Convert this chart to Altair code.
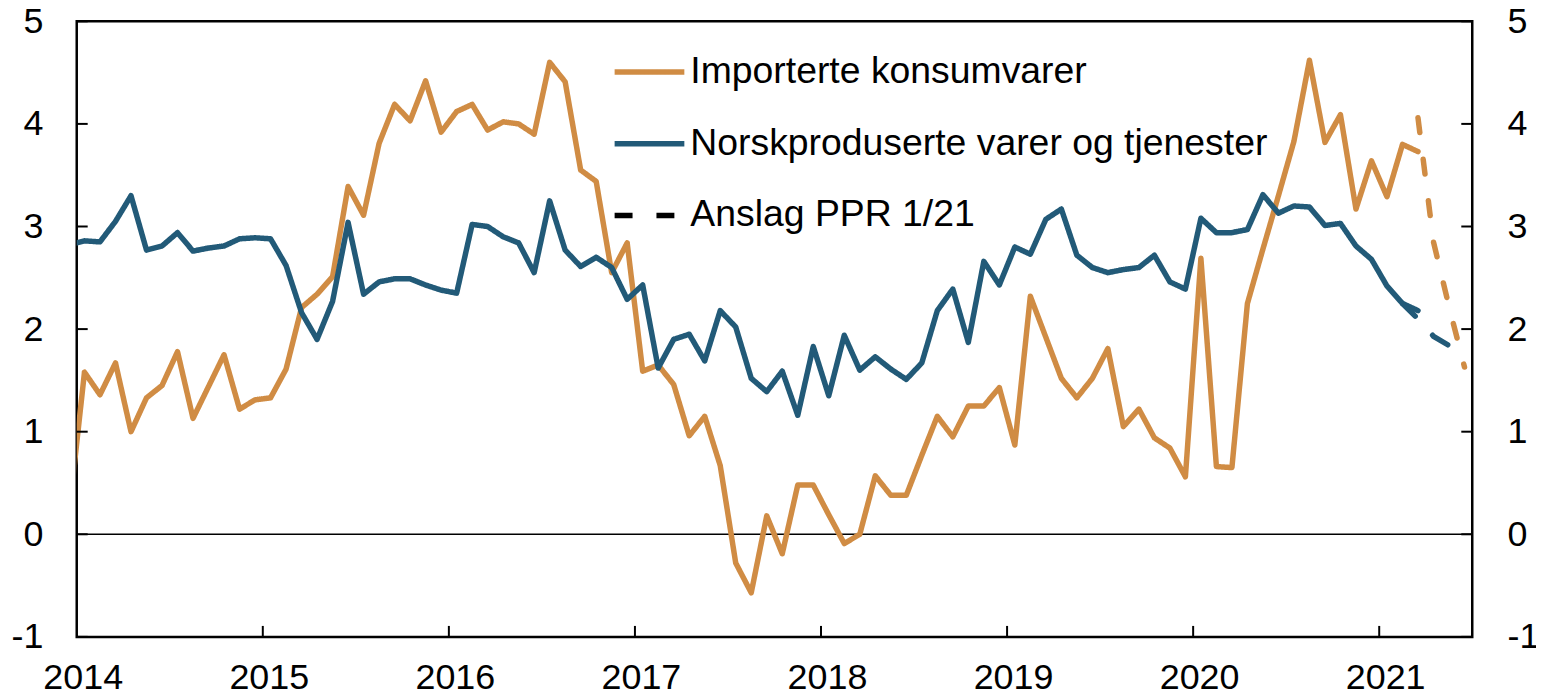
import altair as alt
import pandas as pd

FONT = "Liberation Sans"
ORANGE = "#D08C44"
BLUE = "#225A78"

S1 = "Importerte konsumvarer"
S2 = "Norskproduserte varer og tjenester"
S3 = "Anslag PPR 1/21"

# Monthly values, first value = December 2013
orange_hist = [0.20,
               1.58, 1.36, 1.67, 1.00, 1.33, 1.45, 1.78, 1.13, 1.44, 1.75, 1.22, 1.31,
               1.33, 1.61, 2.21, 2.34, 2.51, 3.39, 3.11, 3.81, 4.19, 4.03, 4.42, 3.92,
               4.12, 4.19, 3.94, 4.02, 4.00, 3.90, 4.60, 4.41, 3.55, 3.44, 2.55, 2.84,
               1.59, 1.65, 1.46, 0.96, 1.15, 0.67, -0.28, -0.57, 0.18, -0.19, 0.48, 0.48,
               0.19, -0.09, 0.00, 0.57, 0.38, 0.38, 0.77, 1.15, 0.95, 1.25, 1.25, 1.43,
               0.87, 2.32, 1.92, 1.52, 1.33, 1.52, 1.81, 1.05, 1.22, 0.94, 0.84, 0.56,
               2.69, 0.66, 0.65, 2.25, 2.78, 3.30, 3.83, 4.62, 3.82, 4.09, 3.17, 3.64,
               3.29, 3.80, 3.73]
blue_hist = [2.82,
             2.86, 2.85, 3.05, 3.30, 2.77, 2.81, 2.94, 2.76, 2.79, 2.81, 2.88, 2.89,
             2.88, 2.62, 2.16, 1.90, 2.27, 3.04, 2.34, 2.46, 2.49, 2.49, 2.43, 2.38,
             2.35, 3.02, 3.00, 2.90, 2.84, 2.55, 3.25, 2.77, 2.61, 2.70, 2.60, 2.29,
             2.43, 1.62, 1.90, 1.95, 1.69, 2.18, 2.02, 1.52, 1.39, 1.59, 1.16, 1.83,
             1.35, 1.94, 1.60, 1.73, 1.61, 1.51, 1.67, 2.18, 2.39, 1.87, 2.66, 2.43,
             2.80, 2.73, 3.07, 3.17, 2.72, 2.60, 2.55, 2.58, 2.60, 2.72, 2.46, 2.39,
             3.08, 2.94, 2.94, 2.97, 3.31, 3.13, 3.20, 3.19, 3.01, 3.03, 2.81, 2.68,
             2.42, 2.25, 2.18]
# Forecasts (PPR 1/21)
orange_fc = [4.06, 2.85, 2.22, 1.63]   # from March 2021
blue_fc = [2.25, 2.10, 1.93, 1.84]     # from February 2021

HIST_START = -1      # months after Jan 2014
ORANGE_FC_START = 86
BLUE_FC_START = 85

x_ticks = [2014, 2015, 2016, 2017, 2018, 2019, 2020, 2021]
y_ticks = [-1, 0, 1, 2, 3, 4, 5]
x_inner_ticks = [2015, 2016, 2017, 2018, 2019, 2020, 2021]

W, H = 1401, 618
LW = 5.5


def to_year(i):
    return 2014 + (i + 0.5) / 12.0


rows = []
for s, vals in [(S1, orange_hist), (S2, blue_hist)]:
    for k, v in enumerate(vals):
        rows.append({"t": to_year(HIST_START + k), "v": v, "s": s})
hist_df = pd.DataFrame(rows)

ofc_df = pd.DataFrame({"t": [to_year(ORANGE_FC_START + k) for k in range(len(orange_fc))], "v": orange_fc})
bfc_df = pd.DataFrame({"t": [to_year(BLUE_FC_START + k) for k in range(len(blue_fc))], "v": blue_fc})

xscale = alt.Scale(domain=[2014, 2021.5], nice=False, zero=False)
yscale = alt.Scale(domain=[-1, 5], nice=False, zero=False)

xaxis = alt.Axis(values=x_ticks, format="d", ticks=False, domain=False, grid=False,
                 labelFontSize=36, labelFont=FONT, labelColor="black", labelPadding=24,
                 labelOffset=6, labelFlush=False, title=None)
yaxis_left = alt.Axis(values=y_ticks, ticks=False, domain=False, grid=False, orient="left",
                      labelFontSize=36, labelFont=FONT, labelColor="black", labelPadding=34,
                      labelExpr="'' + datum.value", title=None)
yaxis_right = alt.Axis(values=y_ticks, ticks=False, domain=False, grid=False, orient="right",
                       labelFontSize=36, labelFont=FONT, labelColor="black", labelPadding=35,
                       labelExpr="'' + datum.value", title=None)

X = alt.X("t:Q", scale=xscale, axis=xaxis)
YL = alt.Y("v:Q", scale=yscale, axis=yaxis_left)
YR = alt.Y("v:Q", scale=yscale, axis=yaxis_right)

legend = alt.Legend(title=None, orient="none", legendX=537, legendY=13,
                    symbolType="stroke", symbolSize=4900, symbolStrokeWidth=LW,
                    labelFontSize=37.5, labelFont=FONT, labelColor="black",
                    labelOffset=3, rowPadding=15, padding=0, labelLimit=0)

color_scale = alt.Scale(domain=[S1, S2, S3], range=[ORANGE, BLUE, "black"])
dash_scale = alt.Scale(domain=[S1, S2, S3], range=[[1, 0], [1, 0], [18, 24]])

zero = alt.Chart(pd.DataFrame({"v": [0]})).mark_rule(color="black", strokeWidth=1.5).encode(y=YL)

lines = alt.Chart(hist_df).mark_line(strokeWidth=LW, clip=True, strokeJoin="round", strokeCap="round").encode(
    x=X, y=YL,
    color=alt.Color("s:N", scale=color_scale, legend=legend),
    strokeDash=alt.StrokeDash("s:N", scale=dash_scale, legend=legend),
    order=alt.Order("t:Q"),
)

ofc = alt.Chart(ofc_df).mark_line(strokeWidth=LW, color=ORANGE, strokeDash=[15, 27],
                                  strokeCap="round", clip=True).encode(x=X, y=YL)
bfc = alt.Chart(bfc_df).mark_line(strokeWidth=LW, color=BLUE, strokeDash=[18, 26],
                                  strokeCap="round", clip=True).encode(x=X, y=YL)

ytick_df = pd.DataFrame({"v": y_ticks})
left_ticks = alt.Chart(ytick_df).mark_rule(color="black", strokeWidth=2).encode(
    y=YL, x=alt.value(0), x2=alt.value(11))
xtick_df = pd.DataFrame({"t": x_inner_ticks})
bottom_ticks = alt.Chart(xtick_df).mark_rule(color="black", strokeWidth=2).encode(
    x=X, y=alt.value(H - 11), y2=alt.value(H))

left_part = alt.layer(zero, lines, ofc, bfc, left_ticks, bottom_ticks)

right_ticks = alt.Chart(ytick_df).mark_rule(color="black", strokeWidth=2).encode(
    y=YR, x=alt.value(W - 11), x2=alt.value(W))

chart = alt.layer(left_part, right_ticks).resolve_axis(y="independent").properties(
    width=W, height=H,
    background="white",
    autosize=alt.AutoSizeParams(type="none"),
    padding={"left": 69, "top": 12, "right": 64, "bottom": 60},
).configure_view(stroke="black", strokeWidth=2.5)

chart.save("out.html", embed_options={"renderer": "svg", "actions": False})
